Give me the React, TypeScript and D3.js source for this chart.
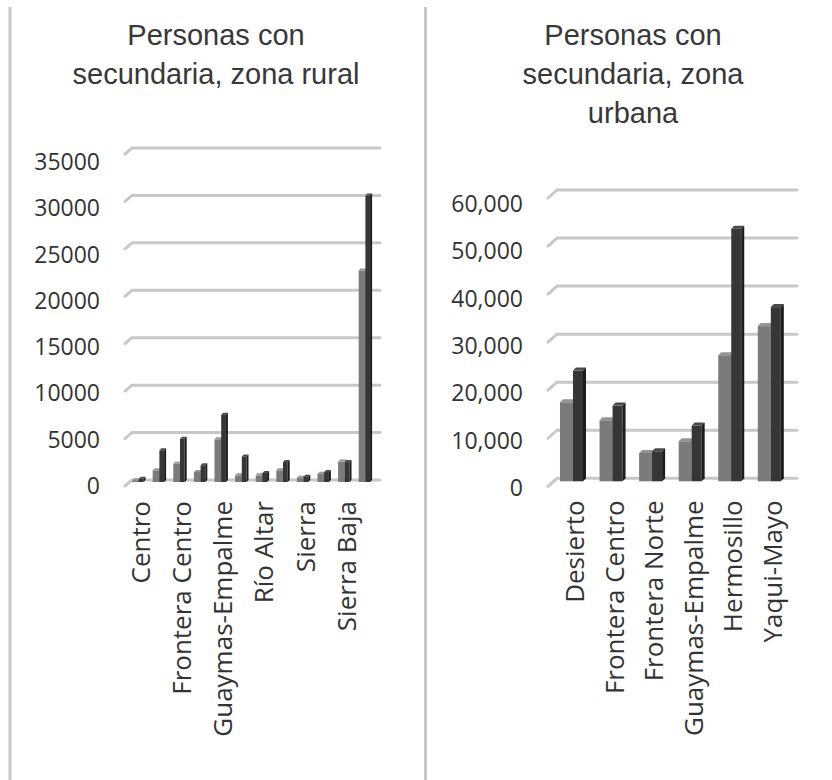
import React from "react";
import * as d3 from "d3";

// ---- Data ----
const ruralCategories = [
  "Centro", "Desierto", "Frontera Centro", "Frontera Norte", "Guaymas-Empalme", "Hermosillo",
  "Río Altar", "Río Sonora", "Sierra", "Sierra Alta", "Sierra Baja", "Yaqui-Mayo",
];
const ruralSeriesA = [180, 1230, 1930, 1050, 4500, 700, 700, 1230, 460, 880, 2150, 22300];
const ruralSeriesB = [350, 3340, 4560, 1760, 7100, 2700, 950, 2100, 560, 1050, 2100, 30200];
const ruralTicks = [0, 5000, 10000, 15000, 20000, 25000, 30000, 35000];

const urbanCategories = ["Desierto", "Frontera Centro", "Frontera Norte", "Guaymas-Empalme", "Hermosillo", "Yaqui-Mayo"];
const urbanSeriesA = [16450, 12700, 5900, 8330, 26250, 32300];
const urbanSeriesB = [23040, 15750, 6250, 11600, 52560, 36250];
const urbanTicks = [0, 10000, 20000, 30000, 40000, 50000, 60000];

const ruralTitle = ["Personas con", "secundaria, zona rural"];
const urbanTitle = ["Personas con", "secundaria, zona", "urbana"];

type PanelProps = {
  categories: string[];
  a: number[];
  b: number[];
  ticks: number[];
  fmt: (v: number) => string;
  yMax: number;
  gridY: [number, number];
  labelY: [number, number];
  xRange: [number, number];
  gridX: [number, number, number];
  stubDy: number;
  tickX: number;
  barW: number;
  depth: number;
  labelEvery: number;
  title: string[];
  titleX: number;
};

function Bar3D({ x, w, yTop, yBase, d, front, top, side }: any) {
  const yF = yTop + d;
  return (
    <g>
      <rect x={x} y={yF} width={w} height={Math.max(0, yBase - yF)} fill={front} />
      <polygon points={`${x},${yF} ${x + w},${yF} ${x + w + d},${yTop} ${x + d},${yTop}`} fill={top} />
      <polygon points={`${x + w},${yF} ${x + w + d},${yTop} ${x + w + d},${yBase - d} ${x + w},${yBase}`} fill={side} />
    </g>
  );
}

function Panel(p: PanelProps) {
  const y = d3.scaleLinear().domain([0, p.yMax]).range(p.gridY);
  const yl = d3.scaleLinear().domain([0, p.yMax]).range(p.labelY);
  const x = d3.scaleBand<string>().domain(p.categories).range(p.xRange);
  const base = y(0) + p.depth;
  return (
    <g>
      {p.title.map((t, i) => (
        <text key={i} x={p.titleX} y={45 + i * 39} textAnchor="middle"
          fontFamily="Liberation Sans, Arial, sans-serif" fontSize={29} fill="#383838">{t}</text>
      ))}
      {p.ticks.map((t) => (
        <g key={t}>
          <polyline
            points={`${p.gridX[0]},${y(t) + p.stubDy} ${p.gridX[1]},${y(t)} ${p.gridX[2]},${y(t)}`}
            fill="none" stroke="#c8c8c8" strokeWidth={3} strokeLinejoin="round" strokeLinecap="round" />
          <text x={p.tickX} y={yl(t)} textAnchor="end" dominantBaseline="central"
            fontFamily="Open Sans, sans-serif" fontSize={23} fill="#333333">{p.fmt(t)}</text>
        </g>
      ))}
      {p.categories.map((c, i) => {
        const cx = (x(c) as number) + x.bandwidth() / 2;
        return (
          <g key={c}>
            <Bar3D x={cx - p.barW} w={p.barW} yTop={y(p.a[i])} yBase={base} d={p.depth}
              front="#7b7b7b" top="#959595" side="#5a5a5a" />
            <Bar3D x={cx} w={p.barW - p.depth} yTop={y(p.b[i])} yBase={base} d={p.depth}
              front="#363636" top="#4a4a4a" side="#1c1c1c" />
          </g>
        );
      })}
      {p.categories.map((c, i) =>
        i % p.labelEvery === 0 ? (
          <text key={c} transform={`translate(${(x(c) as number) + x.bandwidth() / 2 + 1},${base + 19}) rotate(-90)`}
            textAnchor="end" dominantBaseline="central"
            fontFamily="Open Sans, sans-serif" fontSize={26} fill="#333333">{c}</text>
        ) : null
      )}
    </g>
  );
}

export default function App() {
  return (
    <svg width={832} height={780} style={{ position: "absolute", left: 0, top: 0, background: "#fff" }}>
      <line x1={10} y1={7} x2={10} y2={780} stroke="#c8c8c8" strokeWidth={3} />
      <line x1={425.5} y1={7} x2={425.5} y2={780} stroke="#c8c8c8" strokeWidth={3} />
      <Panel categories={ruralCategories} a={ruralSeriesA} b={ruralSeriesB} ticks={ruralTicks}
        fmt={d3.format("d")} yMax={35000} gridY={[480, 148]} labelY={[485, 161]}
        xRange={[128.5, 375.7]} gridX={[125, 132, 380]} stubDy={6} tickX={100}
        barW={6.7} depth={2} labelEvery={2} title={ruralTitle} titleX={216} />
      <Panel categories={urbanCategories} a={urbanSeriesA} b={urbanSeriesB} ticks={urbanTicks}
        fmt={d3.format(",")} yMax={60000} gridY={[478.3, 190]} labelY={[487, 203]}
        xRange={[553.2, 790.6]} gridX={[548, 557, 797]} stubDy={8} tickX={523}
        barW={13} depth={3} labelEvery={1} title={urbanTitle} titleX={633} />
    </svg>
  );
}
